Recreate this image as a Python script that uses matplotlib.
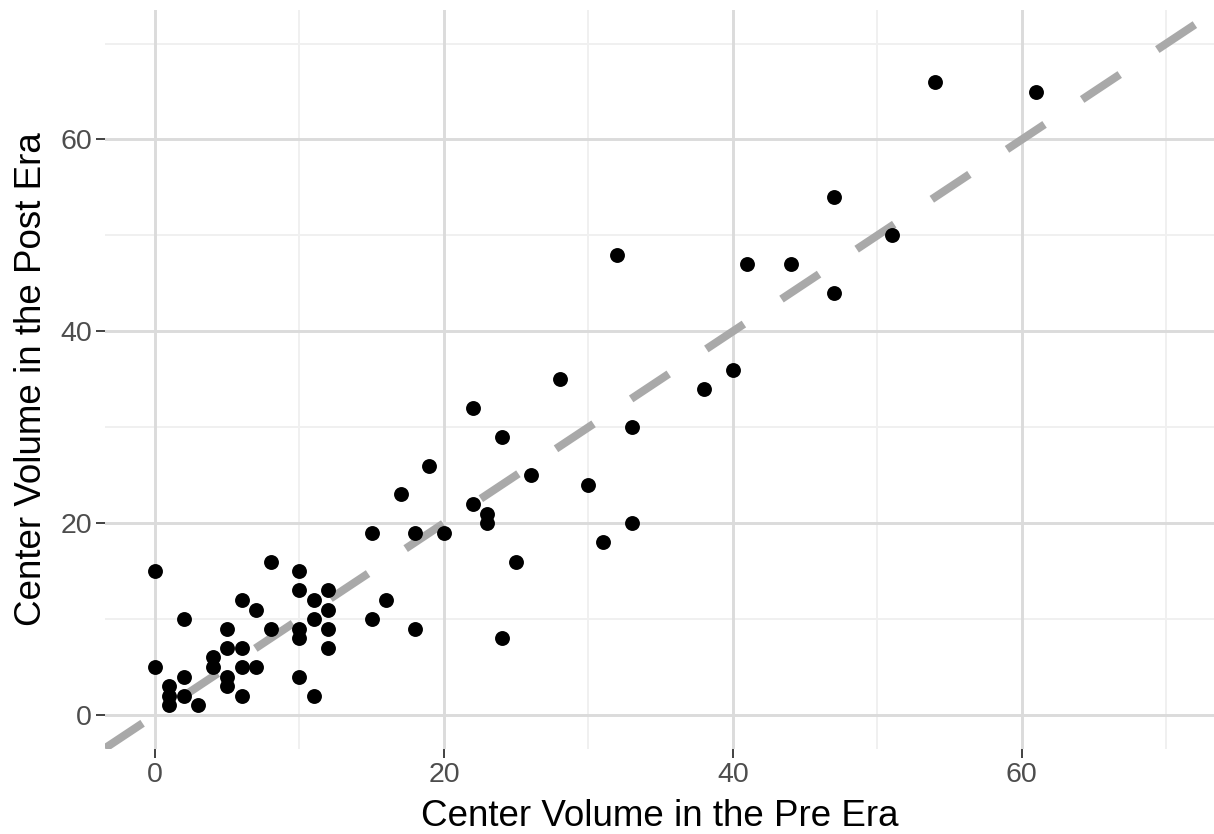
import matplotlib
matplotlib.use("Agg")
import matplotlib.pyplot as plt
import numpy as np

plt.rcParams['font.family'] = ['Liberation Sans', 'DejaVu Sans']

pre_volume = [0, 0, 1, 1, 1, 2, 2, 2, 3, 4, 4, 5, 5, 5, 5, 6, 6, 6, 6, 7, 7,
              8, 8, 10, 10, 10, 10, 10, 11, 11, 11, 12, 12, 12, 12, 15, 15, 16,
              17, 18, 18, 19, 20, 22, 22, 23, 23, 24, 24, 25, 26, 28, 30, 31,
              32, 33, 33, 38, 40, 41, 44, 47, 47, 51, 54, 61]
post_volume = [15, 5, 3, 2, 1, 10, 4, 2, 1, 6, 5, 9, 7, 4, 3, 12, 7, 5, 2, 11, 5,
               16, 9, 15, 13, 9, 8, 4, 12, 10, 2, 13, 11, 9, 7, 19, 10, 12,
               23, 19, 9, 26, 19, 32, 22, 21, 20, 29, 8, 16, 25, 35, 24, 18,
               48, 30, 20, 34, 36, 47, 47, 54, 44, 50, 66, 65]

x_ticks = [0, 20, 40, 60]
y_ticks = [0, 20, 40, 60]
x_minor = [10, 30, 50, 70]
y_minor = [10, 30, 50, 70]
xlim = (-3.46, 73.3)
ylim = (-3.5, 73.5)

W, H = 1214, 834
fig = plt.figure(figsize=(W / 100, H / 100), dpi=100)
ax = fig.add_axes([105 / W, (H - 748.6) / H, (W - 105) / W, (748.6 - 10) / H])

ax.set_xlim(*xlim)
ax.set_ylim(*ylim)

for s in ax.spines.values():
    s.set_visible(False)

# grid
for v in x_minor:
    ax.axvline(v, color='#F0F0F0', lw=1.4, zorder=0)
for v in y_minor:
    ax.axhline(v, color='#F0F0F0', lw=1.4, zorder=0)
for v in x_ticks:
    ax.axvline(v, color='#DBDBDB', lw=2.1, zorder=0.5)
for v in y_ticks:
    ax.axhline(v, color='#DBDBDB', lw=2.1, zorder=0.5)

# identity line
lx = np.array(xlim)
ax.plot(lx, lx, color='#A9A9A9', lw=5.8, linestyle=(0, (5.6, 5.6)),
        solid_capstyle='butt', dash_capstyle='butt', zorder=1)

ax.scatter(pre_volume, post_volume, s=115, color='black', linewidths=0, zorder=3)

ax.set_xticks(x_ticks)
ax.set_yticks(y_ticks)
ax.set_xticklabels([str(t) for t in x_ticks])
ax.set_yticklabels([str(t) for t in y_ticks])
ax.tick_params(axis='both', which='major', length=6.5, width=1.3, color='#333333',
               labelsize=20.5, labelcolor='#4D4D4D', pad=3)

ax.set_xlabel('Center Volume in the Pre Era', fontsize=26.5, color='black', labelpad=8)
ax.set_ylabel('Center Volume in the Post Era', fontsize=26.5, color='black', labelpad=8)

fig.savefig('out.png', dpi=100, facecolor='white')
